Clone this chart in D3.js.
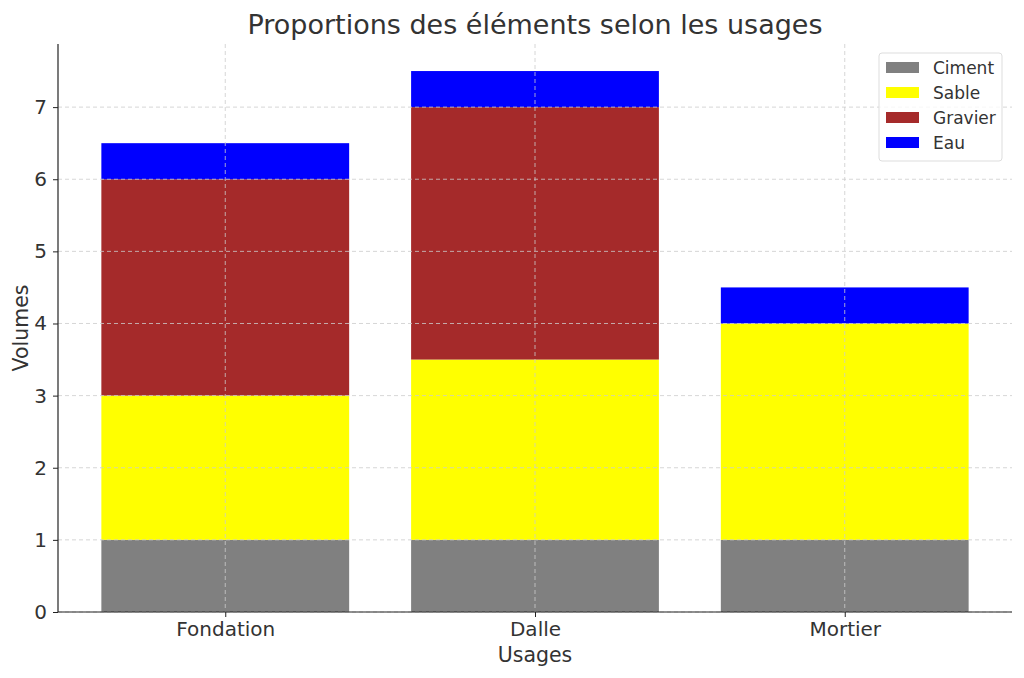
<!DOCTYPE html>
<html><head><meta charset="utf-8">
<script src="https://cdn.jsdelivr.net/npm/d3@7"></script>
<style>body{margin:0;background:#fff;} text{font-family:"DejaVu Sans",sans-serif;fill:#333;}</style>
</head><body>
<svg id="c" width="1024" height="678"></svg>
<script>
const categories = ["Fondation", "Dalle", "Mortier"];
const seriesNames = ["Ciment", "Sable", "Gravier", "Eau"];
const seriesColors = ["#808080", "#ffff00", "#a52a2a", "#0000ff"];
const ciment = [1, 1, 1];
const sable = [2, 2.5, 3];
const gravier = [3, 3.5, 0];
const eau = [0.5, 0.5, 0.5];
const yTicks = [0, 1, 2, 3, 4, 5, 6, 7];

const svg = d3.select("#c");
const m = {l: 58, r: 1012, t: 44, b: 612};
const x = d3.scaleLinear().domain([-0.54, 2.54]).range([m.l, m.r]);
const y = d3.scaleLinear().domain([0, 7.875]).range([m.b, m.t]);
const bw = 0.8;

// stacked bars
const table = categories.map((c, i) => ({cat: c, i, Ciment: ciment[i], Sable: sable[i], Gravier: gravier[i], Eau: eau[i]}));
const stack = d3.stack().keys(seriesNames)(table);
stack.forEach((layer, k) => {
  svg.append("g").selectAll("rect").data(layer).join("rect")
    .attr("x", d => x(d.data.i - bw/2))
    .attr("width", d => x(bw) - x(0))
    .attr("y", d => y(d[1]))
    .attr("height", d => y(d[0]) - y(d[1]))
    .attr("fill", seriesColors[k]);
});

// grid
const g = svg.append("g");
g.selectAll(".gy").data(yTicks).join("line")
  .attr("x1", m.l).attr("x2", m.r).attr("y1", d => y(d)).attr("y2", d => y(d))
  .attr("stroke", "#ccc").attr("stroke-dasharray", "4,3").attr("stroke-width", 0.8);
g.selectAll(".gx").data(categories).join("line")
  .attr("x1", (d,i) => x(i)).attr("x2", (d,i) => x(i)).attr("y1", m.t).attr("y2", m.b)
  .attr("stroke", "#ccc").attr("stroke-dasharray", "4,3").attr("stroke-width", 0.8);

// axes
const yAxis = d3.axisLeft(y).tickValues(yTicks).tickSize(5).tickPadding(6);
const ya = svg.append("g").attr("transform", `translate(${m.l},0)`).call(yAxis);
const xAxis = d3.axisBottom(x).tickValues([0,1,2]).tickFormat(i => categories[i]).tickSize(5).tickPadding(5);
const xa = svg.append("g").attr("transform", `translate(0,${m.b})`).call(xAxis);
[ya, xa].forEach(a => {
  a.attr("font-size", null).attr("font-family", null);
  a.select(".domain").attr("stroke", "#222").attr("stroke-width", 1.2);
  a.selectAll(".tick line").attr("stroke", "#222");
  a.selectAll(".tick text").style("font-size", "20px").style("fill", "#333");
});
ya.select(".domain").attr("d", `M0,${m.b}V${m.t}`);
xa.select(".domain").attr("d", `M${m.l},0H${m.r}`);

// labels
svg.append("text").attr("x", (m.l+m.r)/2).attr("y", 34).attr("text-anchor", "middle")
  .style("font-size", "27px").text("Proportions des éléments selon les usages");
svg.append("text").attr("x", (m.l+m.r)/2).attr("y", 662).attr("text-anchor", "middle")
  .style("font-size", "20.5px").text("Usages");
svg.append("text").attr("transform", `translate(28,${(m.t+m.b)/2}) rotate(-90)`).attr("text-anchor", "middle")
  .style("font-size", "20.5px").text("Volumes");

// legend
const lg = svg.append("g").attr("transform", "translate(879,53)");
lg.append("rect").attr("width", 123).attr("height", 108).attr("rx", 3)
  .attr("fill", "#fff").attr("fill-opacity", 0.8).attr("stroke", "#ddd");
seriesNames.forEach((s, k) => {
  lg.append("rect").attr("x", 7).attr("y", 9 + k*25).attr("width", 33).attr("height", 11).attr("fill", seriesColors[k]);
  lg.append("text").attr("x", 54).attr("y", 21 + k*25).style("font-size", "17px").text(s);
});
</script>
</body></html>
